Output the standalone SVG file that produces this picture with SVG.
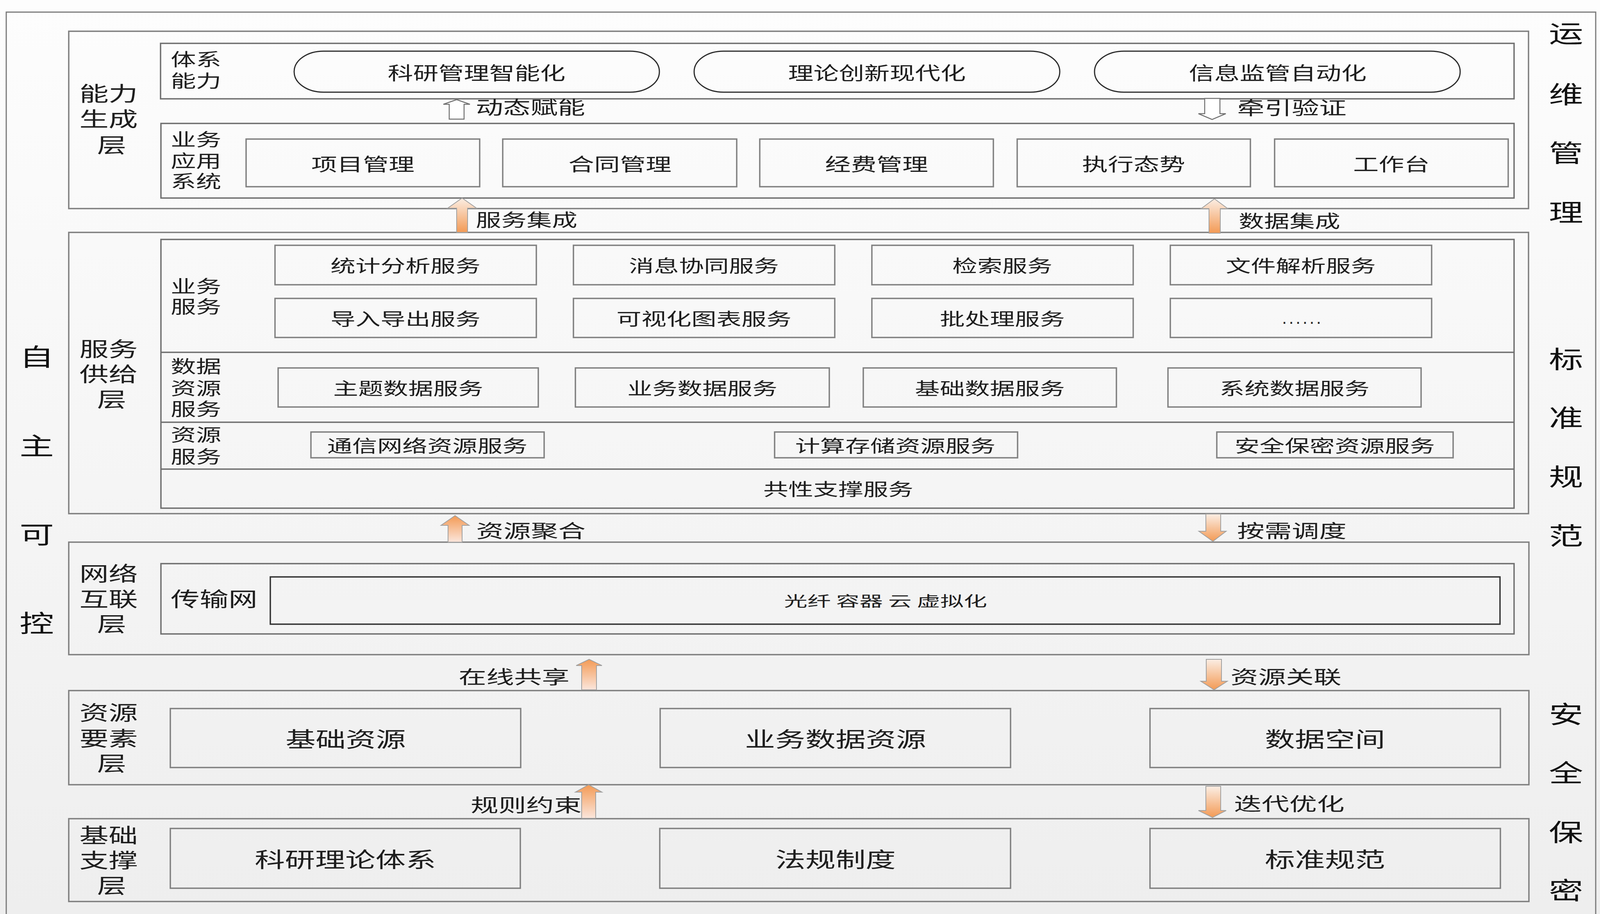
<svg xmlns="http://www.w3.org/2000/svg" width="4107" height="2340" viewBox="0 0 4107 2340">
<defs>
<linearGradient id="bg" x1="0" y1="0" x2="0" y2="1">
<stop offset="0" stop-color="#fdfdfd"/>
<stop offset="1" stop-color="#eeeeee"/>
</linearGradient>
<linearGradient id="gLightTop" x1="0" y1="0" x2="0" y2="1">
<stop offset="0" stop-color="#fbeee4"/>
<stop offset="1" stop-color="#f39a55"/>
</linearGradient>
<linearGradient id="gOrangeTop" x1="0" y1="0" x2="0" y2="1">
<stop offset="0" stop-color="#f39a55"/>
<stop offset="1" stop-color="#fbe6dc"/>
</linearGradient>
<style>
.frame{fill:none;stroke:#7a7a7a;stroke-width:3}
.layer{fill:none;stroke:#7f7f7f;stroke-width:3.5}
.inner{fill:none;stroke:#6f6f6f;stroke-width:3.5}
.box{fill:none;stroke:#808080;stroke-width:3.5}
.dark{fill:none;stroke:#333333;stroke-width:3.5}
.pill{fill:none;stroke:#2b2b2b;stroke-width:3}
.div{stroke:#6f6f6f;stroke-width:3.5}
.hollow{fill:#ffffff;stroke:#707070;stroke-width:2.5}
.oarrow{stroke:#a0a0a0;stroke-width:2}
.t{font-family:"Noto Sans CJK SC","Microsoft YaHei",sans-serif;fill:#1e1e1e;dominant-baseline:central;text-anchor:middle}
.stk{font-family:"Liberation Sans","Noto Sans CJK SC",sans-serif}
.l{text-anchor:start}
.side{font-size:62px;fill:#111111}
.lay{font-size:52px}
.sub{font-size:45px}
.app{font-size:46px}
.svc{font-size:44px}
.big{font-size:54px}
.arr{font-size:47px}
.arr2{font-size:45px}
.sm{font-size:37px}
</style>
</defs>

<rect x="0" y="0" width="4107" height="2340" fill="url(#bg)"/>

<g id="outer-frame">
<rect class="frame" x="16" y="31" width="4069" height="2340"/>
</g>

<g id="side-left">
<text class="t side" x="94" y="910" textLength="88" lengthAdjust="spacingAndGlyphs">自</text>
<text class="t side" x="94" y="1138" textLength="88" lengthAdjust="spacingAndGlyphs">主</text>
<text class="t side" x="94" y="1365" textLength="88" lengthAdjust="spacingAndGlyphs">可</text>
<text class="t side" x="94" y="1592" textLength="88" lengthAdjust="spacingAndGlyphs">控</text>
</g>

<g id="side-right">
<text class="t side" x="4009" y="82" textLength="88" lengthAdjust="spacingAndGlyphs">运</text>
<text class="t side" x="4009" y="238" textLength="88" lengthAdjust="spacingAndGlyphs">维</text>
<text class="t side" x="4009" y="388" textLength="88" lengthAdjust="spacingAndGlyphs">管</text>
<text class="t side" x="4009" y="540" textLength="88" lengthAdjust="spacingAndGlyphs">理</text>
<text class="t side" x="4009" y="916" textLength="88" lengthAdjust="spacingAndGlyphs">标</text>
<text class="t side" x="4009" y="1066" textLength="88" lengthAdjust="spacingAndGlyphs">准</text>
<text class="t side" x="4009" y="1217" textLength="88" lengthAdjust="spacingAndGlyphs">规</text>
<text class="t side" x="4009" y="1368" textLength="88" lengthAdjust="spacingAndGlyphs">范</text>
<text class="t side" x="4009" y="1825" textLength="88" lengthAdjust="spacingAndGlyphs">安</text>
<text class="t side" x="4009" y="1975" textLength="88" lengthAdjust="spacingAndGlyphs">全</text>
<text class="t side" x="4009" y="2127" textLength="88" lengthAdjust="spacingAndGlyphs">保</text>
<text class="t side" x="4009" y="2276" textLength="88" lengthAdjust="spacingAndGlyphs">密</text>
</g>

<!-- Layer 1 -->
<g id="layer-capability">
<rect class="layer" x="176" y="80" width="3737" height="454"/>
<text class="t stk lay" transform="translate(278,4) scale(1.44,1)"><tspan x="0" y="237">能力</tspan><tspan x="0" y="302">生成</tspan><tspan x="5.5" y="369">层</tspan></text>
</g>

<g id="system-capability">
<rect class="inner" x="411" y="111" width="3465" height="142"/>
<text class="t stk sub l" transform="translate(437,4) scale(1.44,1)"><tspan x="0" y="150">体系</tspan><tspan x="0" y="205">能力</tspan></text>
</g>
<g id="pill-1">
<rect class="pill" x="753" y="131" width="935" height="105" rx="75" ry="52"/>
<text class="t arr" x="1220" y="183" textLength="455" lengthAdjust="spacingAndGlyphs">科研管理智能化</text>
</g>
<g id="pill-2">
<rect class="pill" x="1777" y="131" width="936" height="105" rx="75" ry="52"/>
<text class="t arr" x="2245" y="183" textLength="455" lengthAdjust="spacingAndGlyphs">理论创新现代化</text>
</g>
<g id="pill-3">
<rect class="pill" x="2802" y="131" width="936" height="105" rx="75" ry="52"/>
<text class="t arr" x="3271" y="183" textLength="455" lengthAdjust="spacingAndGlyphs">信息监管自动化</text>
</g>

<g id="business-apps">
<rect class="inner" x="412" y="316" width="3464" height="191"/>
<text class="t stk sub l" transform="translate(437,4) scale(1.44,1)"><tspan x="0" y="355">业务</tspan><tspan x="0" y="410">应用</tspan><tspan x="0" y="462">系统</tspan></text>
</g>
<g id="app-1"><rect class="box" x="630" y="356" width="598" height="122"/><text class="t app" x="929" y="417" textLength="264" lengthAdjust="spacingAndGlyphs">项目管理</text></g>
<g id="app-2"><rect class="box" x="1287" y="356" width="599" height="122"/><text class="t app" x="1587" y="417" textLength="264" lengthAdjust="spacingAndGlyphs">合同管理</text></g>
<g id="app-3"><rect class="box" x="1945" y="356" width="598" height="122"/><text class="t app" x="2244" y="417" textLength="264" lengthAdjust="spacingAndGlyphs">经费管理</text></g>
<g id="app-4"><rect class="box" x="2604" y="356" width="597" height="122"/><text class="t app" x="2902" y="417" textLength="264" lengthAdjust="spacingAndGlyphs">执行态势</text></g>
<g id="app-5"><rect class="box" x="3263" y="356" width="598" height="122"/><text class="t app" x="3562" y="417" textLength="196" lengthAdjust="spacingAndGlyphs">工作台</text></g>

<!-- Layer 2 -->
<g id="layer-service">
<rect class="layer" x="176" y="595" width="3737" height="720"/>
<text class="t stk lay" transform="translate(278,4) scale(1.44,1)"><tspan x="0" y="891">服务</tspan><tspan x="0" y="955">供给</tspan><tspan x="5.5" y="1020">层</tspan></text>
<rect class="inner" x="412" y="613" width="3464" height="688"/>
<line class="div" x1="412" y1="902" x2="3876" y2="902"/>
<line class="div" x1="412" y1="1081" x2="3876" y2="1081"/>
<line class="div" x1="412" y1="1201" x2="3876" y2="1201"/>
</g>

<g id="business-services">
<text class="t stk sub l" transform="translate(437,4) scale(1.44,1)"><tspan x="0" y="731">业务</tspan><tspan x="0" y="783">服务</tspan></text>
</g>
<g id="svc-1"><rect class="box" x="704" y="628" width="669" height="101"/><text class="t svc" x="1038" y="678" textLength="384" lengthAdjust="spacingAndGlyphs">统计分析服务</text></g>
<g id="svc-2"><rect class="box" x="1468" y="628" width="669" height="101"/><text class="t svc" x="1802" y="678" textLength="384" lengthAdjust="spacingAndGlyphs">消息协同服务</text></g>
<g id="svc-3"><rect class="box" x="2232" y="628" width="669" height="101"/><text class="t svc" x="2566" y="678" textLength="256" lengthAdjust="spacingAndGlyphs">检索服务</text></g>
<g id="svc-4"><rect class="box" x="2996" y="628" width="669" height="101"/><text class="t svc" x="3330" y="678" textLength="384" lengthAdjust="spacingAndGlyphs">文件解析服务</text></g>
<g id="svc-5"><rect class="box" x="704" y="764" width="669" height="100"/><text class="t svc" x="1038" y="814" textLength="384" lengthAdjust="spacingAndGlyphs">导入导出服务</text></g>
<g id="svc-6"><rect class="box" x="1468" y="764" width="669" height="100"/><text class="t svc" x="1802" y="814" textLength="448" lengthAdjust="spacingAndGlyphs">可视化图表服务</text></g>
<g id="svc-7"><rect class="box" x="2232" y="764" width="669" height="100"/><text class="t svc" x="2566" y="814" textLength="320" lengthAdjust="spacingAndGlyphs">批处理服务</text></g>
<g id="svc-8"><rect class="box" x="2996" y="764" width="669" height="100"/><text x="3332" y="829" font-family="Liberation Sans, sans-serif" font-size="44" fill="#222222" text-anchor="middle" textLength="100" lengthAdjust="spacing">......</text></g>

<g id="data-services">
<text class="t stk sub l" transform="translate(437,4) scale(1.44,1)"><tspan x="0" y="936">数据</tspan><tspan x="0" y="992">资源</tspan><tspan x="0" y="1045">服务</tspan></text>
</g>
<g id="data-1"><rect class="box" x="712" y="942" width="666" height="100"/><text class="t svc" x="1045" y="992" textLength="384" lengthAdjust="spacingAndGlyphs">主题数据服务</text></g>
<g id="data-2"><rect class="box" x="1473" y="942" width="650" height="100"/><text class="t svc" x="1798" y="992" textLength="384" lengthAdjust="spacingAndGlyphs">业务数据服务</text></g>
<g id="data-3"><rect class="box" x="2210" y="942" width="648" height="100"/><text class="t svc" x="2534" y="992" textLength="384" lengthAdjust="spacingAndGlyphs">基础数据服务</text></g>
<g id="data-4"><rect class="box" x="2990" y="942" width="648" height="100"/><text class="t svc" x="3314" y="992" textLength="384" lengthAdjust="spacingAndGlyphs">系统数据服务</text></g>

<g id="resource-services">
<text class="t stk sub l" transform="translate(437,4) scale(1.44,1)"><tspan x="0" y="1111">资源</tspan><tspan x="0" y="1167">服务</tspan></text>
</g>
<g id="res-1"><rect class="box" x="796" y="1106" width="597" height="66"/><text class="t svc" x="1094" y="1139" textLength="513" lengthAdjust="spacingAndGlyphs">通信网络资源服务</text></g>
<g id="res-2"><rect class="box" x="1983" y="1106" width="622" height="66"/><text class="t svc" x="2292" y="1139" textLength="513" lengthAdjust="spacingAndGlyphs">计算存储资源服务</text></g>
<g id="res-3"><rect class="box" x="3115" y="1106" width="605" height="66"/><text class="t svc" x="3417" y="1139" textLength="513" lengthAdjust="spacingAndGlyphs">安全保密资源服务</text></g>

<g id="common-support">
<text class="t svc" x="2146" y="1250" textLength="384" lengthAdjust="spacingAndGlyphs">共性支撑服务</text>
</g>

<!-- Layer 3 -->
<g id="layer-network">
<rect class="layer" x="176" y="1388" width="3738" height="288"/>
<text class="t stk lay" transform="translate(278,4) scale(1.44,1)"><tspan x="0" y="1466">网络</tspan><tspan x="0" y="1531">互联</tspan><tspan x="5.5" y="1595">层</tspan></text>
</g>
<g id="transport-net">
<rect class="inner" x="412" y="1443" width="3464" height="180"/>
<text class="t lay l" x="437" y="1530" textLength="222" lengthAdjust="spacingAndGlyphs">传输网</text>
</g>
<g id="transport-tech">
<rect class="dark" x="692" y="1477" width="3148" height="121"/>
<text class="t sm" x="2267" y="1537" textLength="520" lengthAdjust="spacingAndGlyphs" xml:space="preserve">光纤 容器 云 虚拟化</text>
</g>

<!-- Layer 4 -->
<g id="layer-resource">
<rect class="layer" x="176" y="1768" width="3738" height="241"/>
<text class="t stk lay" transform="translate(278,4) scale(1.44,1)"><tspan x="0" y="1822">资源</tspan><tspan x="0" y="1888">要素</tspan><tspan x="5.5" y="1952">层</tspan></text>
</g>
<g id="res-base"><rect class="box" x="436" y="1814" width="897" height="151"/><text class="t big" x="885" y="1889" textLength="308" lengthAdjust="spacingAndGlyphs">基础资源</text></g>
<g id="res-bizdata"><rect class="box" x="1690" y="1814" width="897" height="151"/><text class="t big" x="2139" y="1889" textLength="464" lengthAdjust="spacingAndGlyphs">业务数据资源</text></g>
<g id="res-dataspace"><rect class="box" x="2944" y="1814" width="897" height="151"/><text class="t big" x="3392" y="1889" textLength="308" lengthAdjust="spacingAndGlyphs">数据空间</text></g>

<!-- Layer 5 -->
<g id="layer-foundation">
<rect class="layer" x="176" y="2096" width="3738" height="212"/>
<text class="t stk lay" transform="translate(278,4) scale(1.44,1)"><tspan x="0" y="2136">基础</tspan><tspan x="0" y="2200">支撑</tspan><tspan x="5.5" y="2265">层</tspan></text>
</g>
<g id="found-theory"><rect class="box" x="436" y="2121" width="896" height="153"/><text class="t big" x="884" y="2197" textLength="464" lengthAdjust="spacingAndGlyphs">科研理论体系</text></g>
<g id="found-law"><rect class="box" x="1689" y="2121" width="898" height="153"/><text class="t big" x="2139" y="2197" textLength="308" lengthAdjust="spacingAndGlyphs">法规制度</text></g>
<g id="found-standard"><rect class="box" x="2944" y="2121" width="897" height="153"/><text class="t big" x="3392" y="2197" textLength="308" lengthAdjust="spacingAndGlyphs">标准规范</text></g>

<!-- Connectors -->
<g id="connectors">
<path class="hollow" d="M1169,255 L1203,267 L1188,267 L1188,305 L1150,305 L1150,267 L1135,267 Z"/>
<text class="t arr l" x="1218" y="271" textLength="280" lengthAdjust="spacingAndGlyphs">动态赋能</text>
<path class="hollow" d="M3084,252 L3123,252 L3123,291 L3138,291 L3103,306 L3068,291 L3084,291 Z"/>
<text class="t arr l" x="3167" y="272" textLength="280" lengthAdjust="spacingAndGlyphs">牵引验证</text>

<path class="oarrow" fill="url(#gLightTop)" d="M1183,507 L1220,533 L1197,533 L1197,595 L1169,595 L1169,533 L1146,533 Z"/>
<text class="t arr2 l" x="1218" y="560" textLength="260" lengthAdjust="spacingAndGlyphs">服务集成</text>
<path class="oarrow" fill="url(#gLightTop)" d="M3109,509 L3143,534 L3124,534 L3124,597 L3095,597 L3095,534 L3075,534 Z"/>
<text class="t arr2 l" x="3171" y="563" textLength="260" lengthAdjust="spacingAndGlyphs">数据集成</text>

<path class="oarrow" fill="url(#gOrangeTop)" d="M1165,1320 L1201,1345 L1183,1345 L1183,1388 L1147,1388 L1147,1345 L1129,1345 Z"/>
<text class="t arr l" x="1219" y="1355" textLength="280" lengthAdjust="spacingAndGlyphs">资源聚合</text>
<path class="oarrow" fill="url(#gLightTop)" d="M3087,1316 L3125,1316 L3125,1360 L3139,1360 L3105,1386 L3069,1360 L3087,1360 Z"/>
<text class="t arr l" x="3167" y="1355" textLength="280" lengthAdjust="spacingAndGlyphs">按需调度</text>

<path class="oarrow" fill="url(#gOrangeTop)" d="M1508,1688 L1541,1704 L1527,1704 L1527,1766 L1489,1766 L1489,1704 L1475,1704 Z"/>
<text class="t arr l" x="1174" y="1729" textLength="284" lengthAdjust="spacingAndGlyphs">在线共享</text>
<path class="oarrow" fill="url(#gLightTop)" d="M3088,1688 L3127,1688 L3127,1744 L3142,1744 L3108,1766 L3074,1744 L3088,1744 Z"/>
<text class="t arr l" x="3150" y="1729" textLength="284" lengthAdjust="spacingAndGlyphs">资源关联</text>

<path class="oarrow" fill="url(#gOrangeTop)" d="M1507,2009 L1541,2028 L1525,2028 L1525,2095 L1489,2095 L1489,2028 L1473,2028 Z"/>
<text class="t arr l" x="1205" y="2057" textLength="284" lengthAdjust="spacingAndGlyphs">规则约束</text>
<path class="oarrow" fill="url(#gLightTop)" d="M3087,2013 L3125,2013 L3125,2075 L3139,2075 L3104,2093 L3068,2075 L3087,2075 Z"/>
<text class="t arr l" x="3159" y="2054" textLength="283" lengthAdjust="spacingAndGlyphs">迭代优化</text>
</g>
</svg>
